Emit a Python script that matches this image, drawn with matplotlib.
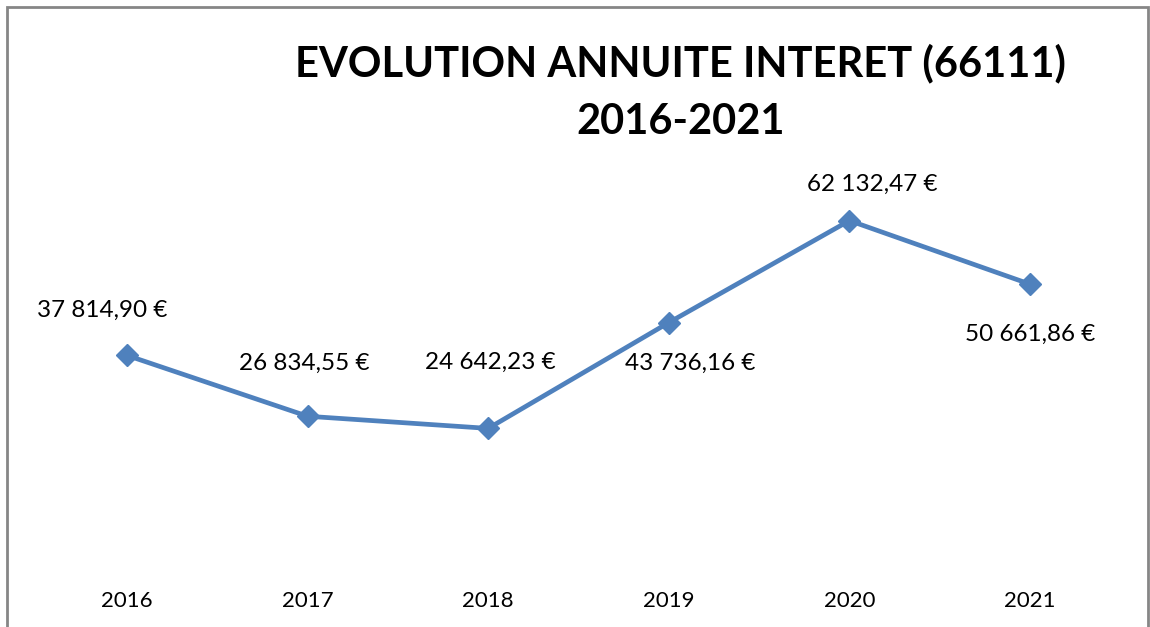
import matplotlib.pyplot as plt
from matplotlib.patches import Rectangle

# data
years = ["2016", "2017", "2018", "2019", "2020", "2021"]
values = [37814.90, 26834.55, 24642.23, 43736.16, 62132.47, 50661.86]
labels = ["37 814,90 €", "26 834,55 €", "24 642,23 €", "43 736,16 €", "62 132,47 €", "50 661,86 €"]
# label offsets in pixels from the point
offsets = [(-25, 45), (-3, 53), (2, 66), (21, -41), (23, 36), (0, -50)]

plt.rcParams['font.family'] = ['Lato', 'DejaVu Sans']

fig = plt.figure(figsize=(11.5, 6.27), dpi=100)
ax = fig.add_axes([0.0319, 0.0989, 0.9423, 0.6188])

x = list(range(len(years)))
ax.plot(x, values, color='#4F81BD', lw=3.4, marker='D', ms=11,
        markerfacecolor='#4F81BD', markeredgecolor='#4F81BD')

for i, (v, lab) in enumerate(zip(values, labels)):
    ax.annotate(lab, (i, v), xytext=offsets[i], textcoords='offset pixels',
                ha='center', va='center', fontsize=17.5, color='black')

ax.set_xlim(-0.5, 5.5)
ax.set_ylim(0, 70000)
ax.set_xticks(x)
ax.set_xticklabels(years, fontsize=16)
ax.tick_params(axis='x', length=0, pad=19)
ax.set_yticks([])
for s in ax.spines.values():
    s.set_visible(False)

# title, two lines
fig.text(0.592, 1 - 63/627, "EVOLUTION ANNUITE INTERET (66111)",
         ha='center', va='center', fontsize=30, fontweight='bold')
fig.text(0.592, 1 - 122/627, "2016-2021",
         ha='center', va='center', fontsize=30, fontweight='bold')

# outer frame
fig.patches.append(Rectangle((7/1150, -0.05), (1148-7)/1150, 1.05 - 7/627,
                             transform=fig.transFigure, fill=False,
                             edgecolor='#868686', lw=2))

fig.savefig('out.png', dpi=100)
